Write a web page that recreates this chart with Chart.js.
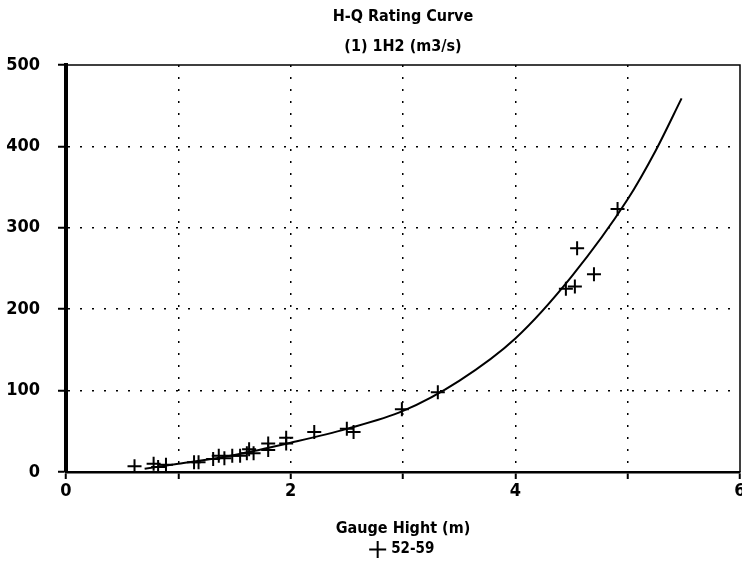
<!DOCTYPE html>
<html>
<head>
<meta charset="utf-8">
<script src="https://cdn.jsdelivr.net/npm/chart.js@4/dist/chart.umd.min.js"></script>
<style>
  html, body { margin: 0; padding: 0; background: #fff; }
  #wrap { width: 742px; height: 568px; }
</style>
</head>
<body>
<div id="wrap"><canvas id="c" width="742" height="568"></canvas></div>
<script>
// ---- data ----
const titleLines = ["H-Q Rating Curve", "(1) 1H2 (m3/s)"];
const xAxisTitle = "Gauge Hight (m)";
const seriesName = "52-59";
const xTicks = [0, 1, 2, 3, 4, 5, 6];
const xTickLabels = ["0", "", "2", "", "4", "", "6"];
const yTicks = [0, 100, 200, 300, 400, 500];

// observed points (gauge height m, discharge m3/s)
const gaugeHeight = [0.61, 0.78, 0.82, 0.89, 1.14, 1.18, 1.31, 1.36, 1.41, 1.48, 1.55, 1.61, 1.63, 1.67, 1.80, 1.80, 1.96, 1.96, 2.21, 2.50, 2.56, 2.99, 3.31, 4.45, 4.53, 4.55, 4.70, 4.91];
const discharge   = [7, 10, 6, 9, 12, 12, 16, 20, 17, 20, 20, 23, 28, 23, 35, 27, 42, 35, 49, 53, 49, 77, 98, 225, 228, 275, 243, 323];

// rating curve
const curveH = [0.70, 1.00, 1.50, 2.00, 2.50, 3.00, 3.50, 4.00, 4.50, 5.00, 5.25, 5.48];
const curveQ = [4, 10, 21, 36, 53, 75, 112, 164, 240, 335, 395, 459];

const points = gaugeHeight.map((h, i) => ({ x: h, y: discharge[i] }));
const curve = curveH.map((h, i) => ({ x: h, y: curveQ[i] }));

const FONT = "'DejaVu Sans Condensed', 'DejaVu Sans', sans-serif";

const frame = {
  id: 'frame',
  afterDraw(chart) {
    const { ctx, chartArea: a } = chart;
    ctx.save();
    ctx.strokeStyle = '#000';
    ctx.lineWidth = 1.5;
    ctx.beginPath();
    ctx.moveTo(a.left, a.top);
    ctx.lineTo(a.right, a.top);
    ctx.lineTo(a.right, a.bottom);
    ctx.stroke();
    ctx.restore();
  }
};

const gridColor = (max) => (ctx) => {
  const v = ctx.tick ? ctx.tick.value : null;
  return (v === 0 || v === max) ? 'rgba(0,0,0,0)' : '#000';
};

new Chart(document.getElementById('c'), {
  type: 'scatter',
  data: {
    datasets: [
      {
        label: 'curve',
        data: curve,
        showLine: true,
        borderColor: '#000',
        borderWidth: 2,
        pointRadius: 0,
        fill: false,
        cubicInterpolationMode: 'monotone'
      },
      {
        label: seriesName,
        data: points,
        showLine: false,
        pointStyle: 'cross',
        pointRadius: 7,
        borderColor: '#000',
        backgroundColor: '#000',
        borderWidth: 2
      }
    ]
  },
  options: {
    responsive: false,
    animation: false,
    layout: { autoPadding: false, padding: { left: 0, right: 2, top: 0, bottom: 1 } },
    plugins: {
      title: {
        display: true,
        fullSize: false,
        text: titleLines,
        color: '#000',
        font: { family: FONT, size: 16, weight: 'bold', lineHeight: 1.875 },
        padding: { top: 2, bottom: 3 }
      },
      legend: {
        display: true,
        position: 'bottom',
        fullSize: false,
        labels: {
          filter: (item) => item.text === seriesName,
          usePointStyle: true,
          pointStyle: 'cross',
          color: '#000',
          boxWidth: 12,
          boxHeight: 12,
          padding: 4,
          font: { family: FONT, size: 15, weight: 'bold' }
        }
      },
      tooltip: { enabled: false }
    },
    scales: {
      x: {
        type: 'linear',
        min: 0,
        max: 6,
        afterBuildTicks: (s) => { s.ticks = xTicks.map(v => ({ value: v })); },
        afterFit: (s) => { s.height = 66; s.paddingRight = 0; s.paddingLeft = 0; },
        ticks: {
          color: '#000',
          padding: 2,
          maxRotation: 0,
          autoSkip: false,
          font: { family: FONT, size: 18, weight: 'bold' },
          callback: (v) => { const i = xTicks.indexOf(v); return i >= 0 ? xTickLabels[i] : ''; }
        },
        grid: {
          color: gridColor(6),
          lineWidth: 1.5,
          drawTicks: true,
          tickLength: 7,
          tickColor: '#000',
          tickWidth: 2,
          tickBorderDash: []
        },
        border: { display: true, color: '#000', width: 2.5, dash: [2, 10] },
        title: {
          display: true,
          text: xAxisTitle,
          color: '#000',
          font: { family: FONT, size: 16, weight: 'bold' },
          padding: { top: 0, bottom: 0 }
        }
      },
      y: {
        type: 'linear',
        min: 0,
        max: 500,
        afterBuildTicks: (s) => { s.ticks = yTicks.map(v => ({ value: v })); },
        afterFit: (s) => { s.width = 66; },
        ticks: {
          color: '#000',
          padding: 18,
          font: { family: FONT, size: 18, weight: 'bold' }
        },
        grid: {
          color: gridColor(500),
          lineWidth: 1.5,
          drawTicks: true,
          tickLength: 8,
          tickColor: '#000',
          tickWidth: 2,
          tickBorderDash: []
        },
        border: { display: true, color: '#000', width: 4, dash: [2, 10] }
      }
    }
  },
  plugins: [frame]
});
</script>
</body>
</html>
